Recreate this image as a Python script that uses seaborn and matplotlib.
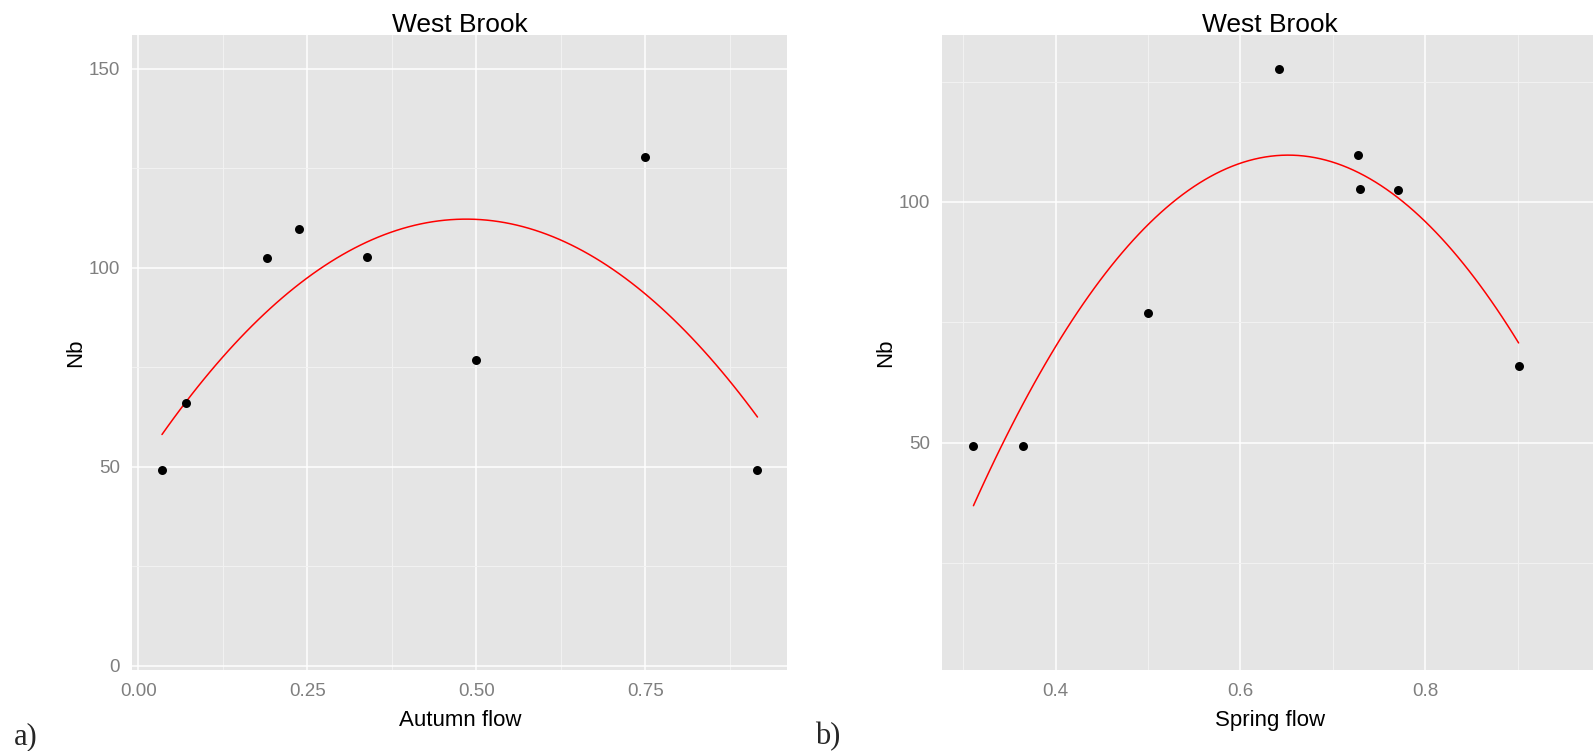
import numpy as np
import pandas as pd
import matplotlib
matplotlib.use("Agg")
import matplotlib.pyplot as plt
import seaborn as sns
from matplotlib.ticker import FixedLocator

# ---------------- data ----------------
autumn_flow = [0.035, 0.070, 0.190, 0.237, 0.338, 0.500, 0.749, 0.916]
nb_autumn = [49.2, 66.0, 102.4, 109.7, 102.6, 76.9, 127.7, 49.2]

spring_flow = [0.311, 0.365, 0.500, 0.642, 0.7275, 0.729, 0.770, 0.901]
nb_spring = [49.2, 49.2, 76.9, 127.7, 109.7, 102.6, 102.4, 66.0]

left_xticks = [0.0, 0.25, 0.50, 0.75]
left_xticklabels = ["0.00", "0.25", "0.50", "0.75"]
left_yticks = [0, 50, 100, 150]
left_yticklabels = ["0", "50", "100", "150"]
left_xminor = [0.125, 0.375, 0.625, 0.875]
left_yminor = [25, 75, 125]

right_xticks = [0.4, 0.6, 0.8]
right_xticklabels = ["0.4", "0.6", "0.8"]
right_yticks = [50, 100]
right_yticklabels = ["50", "100"]
right_xminor = [0.3, 0.5, 0.7, 0.9]
right_yminor = [25, 75, 125]

title = "West Brook"
ylabel = "Nb"
left_xlabel = "Autumn flow"
right_xlabel = "Spring flow"
panel_tags = ["a)", "b)"]

# ---------------- style ----------------
sns.set_style("darkgrid", {"axes.facecolor": "#E5E5E5", "grid.color": "white"})
plt.rcParams["font.family"] = ["Liberation Sans", "DejaVu Sans"]

W, H = 1593, 751
fig = plt.figure(figsize=(W / 100, H / 100), dpi=100)
fig.patch.set_facecolor("white")

bottom_px, top_px = 670.3, 35.3
ax_h = (bottom_px - top_px) / H
ax_b = (H - bottom_px) / H
ax1 = fig.add_axes([132.3 / W, ax_b, 655.0 / W, ax_h])
ax2 = fig.add_axes([942.3 / W, ax_b, 655.4 / W, ax_h])

df_a = pd.DataFrame({"flow": autumn_flow, "Nb": nb_autumn})
df_s = pd.DataFrame({"flow": spring_flow, "Nb": nb_spring})

tick_grey = "#7F7F7F"


def draw(ax, df, xt, xtl, yt, ytl, xmin, ymin, xlim, ylim, xlabel):
    ax.set_facecolor("#E5E5E5")
    sns.regplot(data=df, x="flow", y="Nb", order=2, ci=None, scatter=False,
                color="#FF0000", line_kws={"lw": 1.1, "zorder": 3}, ax=ax)
    sns.scatterplot(data=df, x="flow", y="Nb", color="black", s=42,
                    linewidth=0, marker="o", zorder=4, ax=ax)
    ax.set_xlim(*xlim)
    ax.set_ylim(*ylim)
    ax.xaxis.set_major_locator(FixedLocator(xt))
    ax.yaxis.set_major_locator(FixedLocator(yt))
    ax.set_xticklabels(xtl)
    ax.set_yticklabels(ytl)
    ax.xaxis.set_minor_locator(FixedLocator(xmin))
    ax.yaxis.set_minor_locator(FixedLocator(ymin))
    ax.grid(which="major", color="white", lw=1.1)
    ax.grid(which="minor", color="#F2F2F2", lw=0.7)
    ax.set_axisbelow(True)
    for s in ax.spines.values():
        s.set_visible(False)
    ax.tick_params(which="major", length=5.5, width=1.0, color="#6F6F6F",
                   labelcolor=tick_grey, labelsize=13.5)
    ax.tick_params(axis="x", which="major", pad=3.8)
    ax.tick_params(axis="y", which="major", pad=3.5)
    ax.tick_params(which="minor", length=0)
    ax.set_xlabel(xlabel, fontsize=16, color="black", labelpad=7)
    ax.set_ylabel(ylabel, fontsize=16, color="black", labelpad=1.5)
    ax.set_title(title, fontsize=19, color="black", pad=2.4)


draw(ax1, df_a, left_xticks, left_xticklabels, left_yticks, left_yticklabels,
     left_xminor, left_yminor, (-0.0089, 0.9601), (-1.08, 158.35), left_xlabel)
draw(ax2, df_s, right_xticks, right_xticklabels, right_yticks, right_yticklabels,
     right_xminor, right_yminor, (0.2773, 0.9866), (2.70, 134.61), right_xlabel)

fig.text(14 / W, 1 - 744 / H, panel_tags[0], fontsize=22, va="baseline",
         ha="left", family=["Liberation Serif", "DejaVu Serif"])
fig.text(815 / W, 1 - 744 / H, panel_tags[1], fontsize=22, va="baseline",
         ha="left", family=["Liberation Serif", "DejaVu Serif"])

fig.savefig("out.png", dpi=100, facecolor="white")
